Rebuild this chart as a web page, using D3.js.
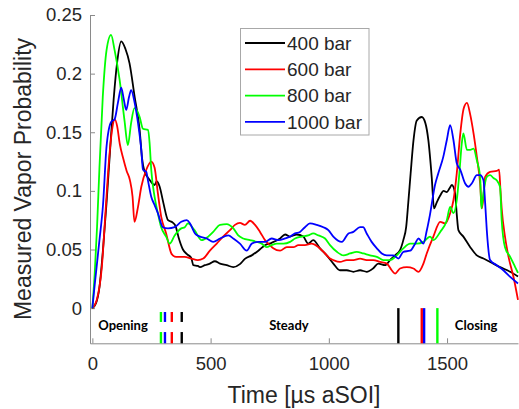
<!DOCTYPE html>
<html><head><meta charset="utf-8">
<script src="https://cdn.jsdelivr.net/npm/d3@7"></script>
<style>body{margin:0;background:#fff}svg{display:block}</style>
</head><body><svg id="c" width="519" height="409"></svg>
<script>
const seriesNames = ["400 bar","600 bar","800 bar","1000 bar"];
const seriesColors = ["#000000","#ff0000","#00ff00","#0000ff"];
const xTicks = [0,500,1000,1500];
const xTickLabels = ["0","500","1000","1500"];
const yTicks = [0,0.05,0.1,0.15,0.2,0.25];
const yTickLabels = ["0","0.05","0.1","0.15","0.2","0.25"];

const bar400 = [[0,0],[15,0.004],[30,0.018],[45,0.05],[60,0.09],[75,0.135],[90,0.178],[105,0.21],[122,0.2275],[140,0.221],[157,0.209],[179,0.18],[200,0.152],[210,0.128],[220,0.117],[240,0.11],[263,0.105],[272,0.108],[284,0.104],[300,0.09],[320,0.075],[340,0.073],[352,0.07],[365,0.06],[383,0.05],[400,0.046],[418,0.043],[427,0.0366],[446,0.036],[455,0.035],[476,0.0366],[497,0.038],[518,0.04],[540,0.038],[568,0.0366],[596,0.035],[624,0.0375],[645,0.042],[674,0.045],[702,0.049],[730,0.0537],[758,0.0557],[794,0.0594],[815,0.0628],[836,0.061],[864,0.0628],[892,0.061],[913,0.055],[934,0.058],[963,0.051],[991,0.045],[1019,0.038],[1047,0.0323],[1076,0.0323],[1104,0.031],[1132,0.0323],[1160,0.031],[1188,0.034],[1209,0.038],[1238,0.0366],[1259,0.041],[1280,0.045],[1301,0.0494],[1315,0.058],[1327,0.069],[1336,0.09],[1346,0.115],[1358,0.143],[1372,0.16],[1393,0.163],[1408,0.158],[1421,0.143],[1435,0.112],[1445,0.085],[1456,0.09],[1471,0.096],[1485,0.1],[1499,0.099],[1510,0.102],[1520,0.105],[1534,0.098],[1541,0.08],[1548,0.0665],[1569,0.061],[1598,0.052],[1626,0.045],[1654,0.0423],[1682,0.0394],[1724,0.035],[1767,0.031],[1800,0.027]];

const bar600 = [[0,0],[20,0.008],[40,0.035],[55,0.08],[70,0.125],[82,0.15],[95,0.161],[105,0.155],[116,0.14],[130,0.128],[145,0.117],[159,0.109],[170,0.095],[178,0.0736],[193,0.0864],[207,0.1035],[228,0.118],[249,0.125],[263,0.12],[277,0.098],[291,0.078],[312,0.0637],[334,0.0466],[348,0.044],[362,0.0437],[390,0.0437],[418,0.0423],[446,0.041],[469,0.0423],[497,0.049],[526,0.055],[553,0.061],[582,0.0665],[603,0.071],[624,0.0727],[645,0.071],[667,0.0745],[688,0.071],[709,0.065],[730,0.058],[744,0.055],[765,0.051],[794,0.049],[822,0.052],[850,0.052],[871,0.0537],[899,0.0537],[927,0.055],[956,0.052],[984,0.0466],[1005,0.0423],[1019,0.041],[1047,0.0394],[1076,0.041],[1104,0.041],[1132,0.0423],[1160,0.041],[1188,0.041],[1217,0.0394],[1245,0.038],[1266,0.0323],[1280,0.0295],[1301,0.0338],[1330,0.035],[1358,0.0338],[1379,0.031],[1400,0.038],[1414,0.0466],[1442,0.061],[1471,0.0736],[1492,0.0722],[1513,0.081],[1527,0.092],[1541,0.115],[1556,0.149],[1570,0.17],[1584,0.175],[1598,0.165],[1612,0.149],[1626,0.129],[1640,0.106],[1647,0.085],[1654,0.095],[1661,0.112],[1682,0.1163],[1710,0.117],[1720,0.118],[1726,0.1],[1731,0.085],[1745,0.061],[1760,0.0437],[1781,0.0266],[1800,0.007]];

const bar800 = [[0,0],[10,0.03],[20,0.07],[30,0.12],[44,0.18],[60,0.22],[79,0.233],[94,0.22],[115,0.195],[136,0.16],[150,0.139],[164,0.158],[178,0.1705],[190,0.168],[200,0.163],[214,0.153],[235,0.152],[242,0.141],[249,0.118],[263,0.095],[277,0.081],[291,0.069],[312,0.061],[327,0.055],[348,0.062],[376,0.068],[391,0.069],[404,0.0722],[432,0.0665],[462,0.058],[490,0.061],[511,0.065],[540,0.071],[568,0.0716],[596,0.068],[617,0.062],[638,0.0594],[667,0.058],[695,0.0565],[716,0.055],[737,0.052],[758,0.0537],[780,0.055],[808,0.055],[836,0.0565],[857,0.0594],[885,0.061],[913,0.062],[934,0.0637],[956,0.062],[984,0.0594],[1005,0.0537],[1034,0.048],[1062,0.045],[1090,0.0466],[1118,0.048],[1146,0.0466],[1174,0.045],[1203,0.0437],[1231,0.041],[1259,0.041],[1287,0.045],[1315,0.051],[1344,0.055],[1372,0.055],[1400,0.0565],[1428,0.061],[1442,0.058],[1471,0.065],[1499,0.075],[1513,0.0864],[1527,0.081],[1541,0.092],[1552,0.115],[1562,0.14],[1569,0.149],[1584,0.135],[1598,0.135],[1612,0.136],[1626,0.126],[1640,0.112],[1645,0.085],[1655,0.1],[1668,0.112],[1682,0.1135],[1696,0.111],[1710,0.109],[1724,0.1035],[1731,0.075],[1745,0.052],[1767,0.0437],[1788,0.035],[1800,0.03]];

const bar1000 = [[0,0],[10,0.02],[30,0.058],[45,0.088],[60,0.138],[80,0.159],[94,0.161],[108,0.175],[122,0.188],[133,0.178],[143,0.169],[155,0.18],[164,0.186],[178,0.176],[193,0.158],[207,0.135],[214,0.118],[228,0.1163],[235,0.109],[249,0.095],[263,0.088],[277,0.081],[298,0.069],[320,0.068],[348,0.069],[376,0.0736],[399,0.075],[413,0.0722],[434,0.0637],[455,0.061],[483,0.0594],[511,0.0565],[540,0.0594],[575,0.062],[596,0.0594],[624,0.055],[653,0.049],[674,0.055],[702,0.0565],[730,0.0565],[758,0.0594],[787,0.058],[815,0.0594],[836,0.061],[857,0.0637],[878,0.065],[899,0.069],[920,0.0722],[949,0.071],[977,0.069],[998,0.0665],[1019,0.061],[1055,0.0565],[1083,0.0637],[1104,0.065],[1132,0.069],[1145,0.069],[1160,0.0637],[1181,0.0565],[1203,0.051],[1224,0.0466],[1245,0.045],[1273,0.045],[1294,0.0423],[1315,0.048],[1344,0.049],[1365,0.055],[1379,0.0594],[1400,0.055],[1414,0.066],[1428,0.08],[1449,0.105],[1463,0.115],[1484,0.129],[1499,0.1434],[1513,0.156],[1527,0.1434],[1541,0.1235],[1556,0.118],[1576,0.1065],[1591,0.1035],[1605,0.1065],[1626,0.1135],[1640,0.1135],[1654,0.109],[1661,0.09],[1668,0.0665],[1682,0.041],[1710,0.0366],[1738,0.0323],[1767,0.0266],[1800,0.021]];

const seriesData = [bar400, bar600, bar800, bar1000];

// phase boundary markers (time values), colour index matches series
const openingMarks = [378, 336, 290, 307];
const closingMarks = [1294, 1393, 1459, 1403];
const phaseLabels = [["Opening",25],["Steady",748],["Closing",1533]];

const svg = d3.select("#c");
const x = d3.scaleLinear().domain([-10,1800]).range([90,518]);
const y = d3.scaleLinear().domain([-0.03,0.25]).range([343.3,15]);
const axisColor = "#8a8a8a", textColor = "#262626";

// axes
const gx = svg.append("g").attr("transform",`translate(0,${y(-0.03)})`)
  .call(d3.axisBottom(x).tickValues(xTicks).tickFormat((d,i)=>xTickLabels[i]).tickSize(-5).tickPadding(10).tickSizeOuter(0));
const gy = svg.append("g").attr("transform",`translate(${x(-10)},0)`)
  .call(d3.axisLeft(y).tickValues(yTicks).tickFormat((d,i)=>yTickLabels[i]).tickSize(-5).tickPadding(8).tickSizeOuter(0));
[gx,gy].forEach(g=>{
  g.select(".domain").attr("stroke",axisColor).attr("stroke-width",1);
  g.selectAll(".tick line").attr("stroke",axisColor);
  g.selectAll(".tick text").attr("fill",textColor).style("font-family","'Liberation Sans',Arial,sans-serif").style("font-size","18.5px");
});
gx.selectAll(".tick text").attr("dy","0.71em").attr("y",14);

// axis titles
svg.append("text").attr("x",304).attr("y",403).attr("text-anchor","middle")
  .attr("fill",textColor).style("font-family","'Liberation Sans',Arial,sans-serif").style("font-size","23px")
  .text("Time [µs aSOI]");
svg.append("text").attr("transform","translate(31,179) rotate(-90)").attr("text-anchor","middle")
  .attr("fill",textColor).style("font-family","'Liberation Sans',Arial,sans-serif").style("font-size","23px")
  .text("Measured Vapor Probability");

// series lines
const line = d3.line().x(d=>x(d[0])).y(d=>y(d[1])).curve(d3.curveMonotoneX);
seriesData.forEach((s,i)=>{
  svg.append("path").datum(s).attr("d",line).attr("fill","none")
    .attr("stroke",seriesColors[i]).attr("stroke-width",1.8).attr("stroke-linejoin","round");
});

// phase markers
openingMarks.forEach((t,i)=>{
  [[-0.0033,-0.0118],[-0.0204,-0.03]].forEach(seg=>{
    svg.append("line").attr("x1",x(t)).attr("x2",x(t)).attr("y1",y(seg[0])).attr("y2",y(seg[1]))
      .attr("stroke",seriesColors[i]).attr("stroke-width",2.4);
  });
});
closingMarks.forEach((t,i)=>{
  svg.append("line").attr("x1",x(t)).attr("x2",x(t)).attr("y1",y(0)).attr("y2",y(-0.03))
    .attr("stroke",seriesColors[i]).attr("stroke-width",2.4);
});
phaseLabels.forEach(p=>{
  svg.append("text").attr("x",x(p[1])).attr("y",y(-0.0187)).attr("fill","#000")
    .style("font-family","Lato,'Open Sans',sans-serif").style("font-weight","bold").style("font-size","13px")
    .text(p[0]);
});

// legend
const lg = svg.append("g");
lg.append("rect").attr("x",240.5).attr("y",28.5).attr("width",128.5).attr("height",106.5)
  .attr("fill","#fff").attr("stroke","#a8a8a8").attr("stroke-width",1);
seriesNames.forEach((n,i)=>{
  const cy = 43 + i*26.3;
  lg.append("line").attr("x1",245).attr("x2",285).attr("y1",cy).attr("y2",cy)
    .attr("stroke",seriesColors[i]).attr("stroke-width",1.8);
  lg.append("text").attr("x",287).attr("y",cy+6.8).attr("fill",textColor)
    .style("font-family","'Liberation Sans',Arial,sans-serif").style("font-size","19px").text(n);
});
</script></body></html>
